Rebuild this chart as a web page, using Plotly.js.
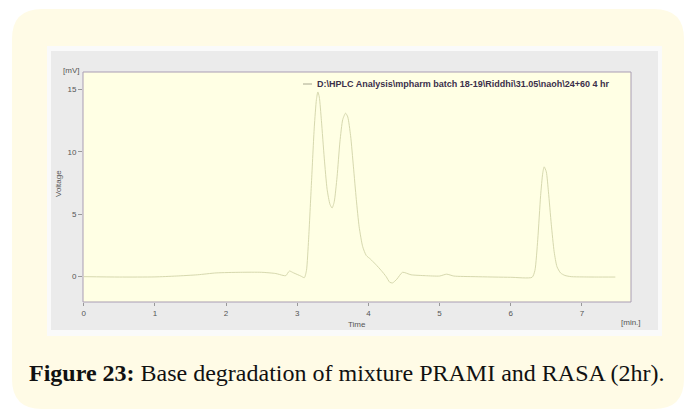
<!DOCTYPE html>
<html>
<head>
<meta charset="utf-8">
<script src="https://cdn.plot.ly/plotly-3.0.1.min.js"></script>
<style>
html,body{margin:0;padding:0;background:#ffffff;}
#chart{width:686px;height:411px;}
</style>
</head>
<body>
<div id="chart"></div>
<script>
// Chromatogram data (time in min, voltage in mV)
const timeMin = [0, 0.5, 1.0, 1.3, 1.6, 1.86, 2.2, 2.5, 2.7, 2.8, 2.84, 2.89, 2.95, 3.05, 3.1, 3.13, 3.16, 3.2, 3.24, 3.27, 3.29, 3.31, 3.34, 3.38, 3.42, 3.46, 3.49, 3.52, 3.56, 3.6, 3.64, 3.68, 3.71, 3.75, 3.79, 3.83, 3.87, 3.92, 3.97, 4.03, 4.1, 4.18, 4.25, 4.3, 4.34, 4.4, 4.48, 4.6, 4.8, 5.0, 5.1, 5.2, 5.5, 6.0, 6.3, 6.34, 6.38, 6.42, 6.45, 6.47, 6.5, 6.53, 6.57, 6.61, 6.65, 6.7, 6.76, 6.85, 7.0, 7.2, 7.47];
const voltage = [0, -0.03, -0.02, 0.05, 0.15, 0.3, 0.35, 0.35, 0.25, 0.1, 0.08, 0.45, 0.3, 0.05, -0.08, 0.5, 3.0, 7.5, 12.0, 14.2, 14.8, 14.4, 12.5, 9.5, 7.0, 5.8, 5.5, 6.0, 8.0, 10.8, 12.6, 13.1, 12.8, 11.3, 8.8, 6.2, 4.0, 2.4, 1.7, 1.4, 1.0, 0.5, 0.0, -0.45, -0.5, -0.2, 0.35, 0.15, 0.08, 0.05, 0.2, 0.05, 0.0, -0.05, -0.05, 0.5, 3.0, 6.5, 8.3, 8.8, 8.4, 6.8, 4.2, 2.0, 0.8, 0.3, 0.1, 0.0, -0.02, -0.03, -0.03];

const legendName = 'D:\\HPLC Analysis\\mpharm batch 18-19\\Riddhi\\31.05\\naoh\\24+60 4 hr';
const xTicks = [0, 1, 2, 3, 4, 5, 6, 7];
const yTicks = [0, 5, 10, 15];
const captionBold = 'Figure 23:';
const captionText = ' Base degradation of mixture PRAMI and RASA (2hr).';

// pixel -> paper conversion for decorative frame shapes
const PL = 83, PR = 631, PT = 72, PB = 302;
const px = v => (v - PL) / (PR - PL);
const py = v => (PB - v) / (PB - PT);
function roundRect(x0, y0, x1, y1, r) {
  const p = (x, y) => px(x) + ',' + py(y);
  return 'M' + p(x0 + r, y0) + ' L' + p(x1 - r, y0) + ' Q' + p(x1, y0) + ' ' + p(x1, y0 + r) +
    ' L' + p(x1, y1 - r) + ' Q' + p(x1, y1) + ' ' + p(x1 - r, y1) +
    ' L' + p(x0 + r, y1) + ' Q' + p(x0, y1) + ' ' + p(x0, y1 - r) +
    ' L' + p(x0, y0 + r) + ' Q' + p(x0, y0) + ' ' + p(x0 + r, y0) + ' Z';
}

const lineColor = '#d6d8ae';
const trace = {
  x: timeMin, y: voltage, type: 'scatter', mode: 'lines',
  name: legendName,
  line: {color: lineColor, width: 1, shape: 'spline', smoothing: 0.6},
  showlegend: false
};

const axisFont = {family: 'Liberation Sans, Arial, sans-serif', size: 8, color: '#555555'};

const layout = {
  width: 686, height: 411,
  margin: {l: PL, r: 686 - PR, t: PT, b: 411 - PB},
  paper_bgcolor: '#ffffff',
  plot_bgcolor: 'rgba(0,0,0,0)',
  showlegend: false,
  xaxis: {range: [-0.01, 7.69], tickvals: xTicks, ticktext: xTicks.map(String),
    ticks: 'outside', ticklen: 3, tickcolor: '#999999', tickwidth: 1,
    showgrid: false, zeroline: false, showline: false, tickfont: axisFont, fixedrange: true},
  yaxis: {range: [-2.03, 16.4], tickvals: yTicks, ticktext: yTicks.map(String),
    ticks: 'outside', ticklen: 4, tickcolor: '#999999', tickwidth: 1,
    showgrid: false, zeroline: false, showline: false, tickfont: axisFont, fixedrange: true},
  shapes: [
    {type: 'path', xref: 'paper', yref: 'paper', path: roundRect(12, 9, 684, 409, 30),
      fillcolor: '#fffbe6', line: {width: 0}, layer: 'below'},
    {type: 'rect', xref: 'paper', yref: 'paper', x0: px(47), x1: px(662), y0: py(46), y1: py(336),
      fillcolor: '#fafafa', line: {width: 0}, layer: 'below'},
    {type: 'rect', xref: 'paper', yref: 'paper', x0: px(51), x1: px(658), y0: py(51), y1: py(330),
      fillcolor: '#ebebeb', line: {width: 0}, layer: 'below'},
    {type: 'rect', xref: 'paper', yref: 'paper', x0: 0, x1: 1, y0: 0, y1: 1,
      fillcolor: '#ffffe4', line: {color: '#a99db3', width: 1}, layer: 'below'},
    // legend sample line
    {type: 'line', xref: 'paper', yref: 'paper', x0: px(303), x1: px(312), y0: py(84), y1: py(84),
      line: {color: '#a8a890', width: 1}}
  ],
  annotations: [
    {xref: 'paper', yref: 'paper', x: px(315), y: py(84), text: legendName, showarrow: false,
      font: {family: 'Liberation Sans, Arial, sans-serif', size: 9, color: '#3b2f4a', weight: 'bold'},
      xanchor: 'left', yanchor: 'middle'},
    {xref: 'paper', yref: 'paper', x: px(71), y: py(70), text: '[mV]', showarrow: false,
      font: axisFont, xanchor: 'center', yanchor: 'middle'},
    {xref: 'paper', yref: 'paper', x: px(58), y: py(184), text: 'Voltage', showarrow: false,
      textangle: -90, font: axisFont, xanchor: 'center', yanchor: 'middle'},
    {xref: 'paper', yref: 'paper', x: px(357), y: py(324), text: 'Time', showarrow: false,
      font: axisFont, xanchor: 'center', yanchor: 'middle'},
    {xref: 'paper', yref: 'paper', x: px(631), y: py(322), text: '[min.]', showarrow: false,
      font: axisFont, xanchor: 'center', yanchor: 'middle'},
    {xref: 'paper', yref: 'paper', x: px(346), y: py(373),
      text: '<b>' + captionBold + '</b>' + captionText, showarrow: false,
      font: {family: 'Liberation Serif, Times New Roman, serif', size: 24, color: '#111111'},
      xanchor: 'center', yanchor: 'middle'}
  ]
};

Plotly.newPlot('chart', [trace], layout, {staticPlot: true, displayModeBar: false});
</script>
</body>
</html>
